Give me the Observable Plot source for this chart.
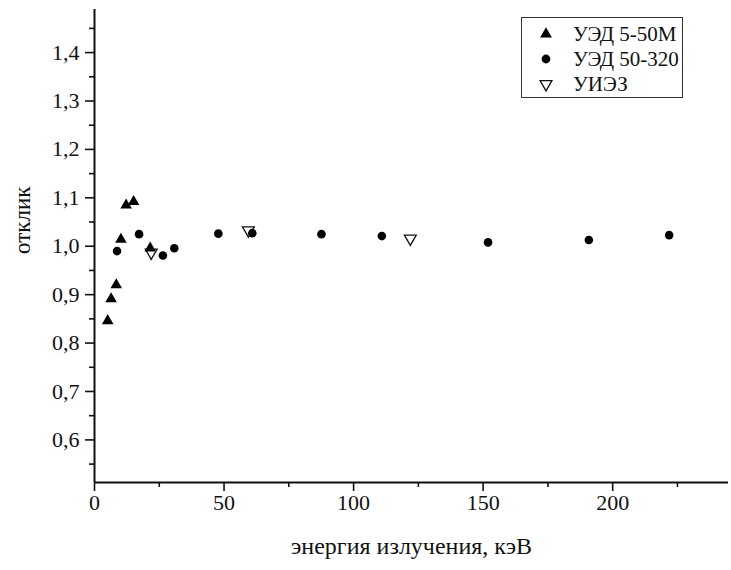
<!DOCTYPE html>
<html>
<head>
<meta charset="utf-8">
<script src="https://cdn.jsdelivr.net/npm/d3@7"></script>
<script src="https://cdn.jsdelivr.net/npm/@observablehq/plot@0.6"></script>
<style>
  html, body { margin: 0; padding: 0; background: #fff; }
  #wrap { position: relative; width: 731px; height: 570px; }
  #legend { position: absolute; left: 521px; top: 17px; width: 160px; height: 79px; border: 1.5px solid #333; background: #fff; }
</style>
</head>
<body>
<div id="wrap"></div>
<script>
// Series: УЭД 5-50М (filled up-triangles)
const uedSmallX = [5.1, 6.4, 8.4, 10.2, 12.2, 15.1, 21.5];
const uedSmallY = [0.846, 0.891, 0.920, 1.014, 1.085, 1.092, 0.996];
// Series: УЭД 50-320 (filled circles)
const uedLargeX = [8.7, 17.2, 26.4, 30.8, 47.8, 60.9, 87.6, 110.9, 151.9, 190.8, 221.8];
const uedLargeY = [0.990, 1.025, 0.981, 0.996, 1.026, 1.027, 1.025, 1.021, 1.008, 1.013, 1.023];
// Series: УИЭЗ (open down-triangles)
const uiezX = [21.9, 59.4, 121.9];
const uiezY = [0.987, 1.033, 1.016];

const seriesNames = ["УЭД 5-50М", "УЭД 50-320", "УИЭЗ"];
const xTicks = [0, 50, 100, 150, 200];
const xMinor = [25, 75, 125, 175, 225];
const yTicks = [0.6, 0.7, 0.8, 0.9, 1.0, 1.1, 1.2, 1.3, 1.4];
const yMinor = [0.55, 0.65, 0.75, 0.85, 0.95, 1.05, 1.15, 1.25, 1.35, 1.45];
const xDomain = [0, 244.7];
const yDomain = [0.512, 1.489];
const xTitle = "энергия излучения, кэВ";
const yTitle = "отклик";

const zip = (xs, ys) => xs.map((x, i) => ({x, y: ys[i]}));
const fmt = d => d.toFixed(1).replace(".", ",");
const serif = "'Liberation Serif', 'Times New Roman', Times, serif";

const chart = Plot.plot({
  width: 731,
  height: 570,
  marginLeft: 94,
  marginRight: 3,
  marginTop: 9,
  marginBottom: 88,
  style: {background: "transparent", color: "#111", fontFamily: serif},
  x: {domain: xDomain},
  y: {domain: yDomain},
  marks: [
    Plot.axisX({ticks: xTicks, tickSize: 9, text: null, label: null, strokeWidth: 1.6}),
    Plot.axisX({ticks: xMinor, tickSize: 5, text: null, label: null, strokeWidth: 1.6}),
    Plot.axisY({ticks: yTicks, tickSize: 9, text: null, label: null, strokeWidth: 1.6}),
    Plot.axisY({ticks: yMinor, tickSize: 5, text: null, label: null, strokeWidth: 1.6}),
    Plot.text(xTicks, {x: d => d, frameAnchor: "bottom", dy: 27, text: d => String(d), fontSize: 22, fontFamily: serif, fill: "#111"}),
    Plot.text(yTicks, {y: d => d, frameAnchor: "left", dx: -15, textAnchor: "end", text: fmt, fontSize: 22, fontFamily: serif, fill: "#111"}),
    Plot.ruleX([xDomain[0]], {stroke: "#111", strokeWidth: 2}),
    Plot.ruleY([yDomain[0]], {stroke: "#111", strokeWidth: 2}),
    Plot.text([xTitle], {frameAnchor: "bottom", dy: 71, fontSize: 24, fontFamily: serif, fill: "#111", text: d => d}),
    Plot.text([yTitle], {frameAnchor: "left", dx: -72, dy: 8, rotate: -90, fontSize: 23, fontFamily: serif, fill: "#111", text: d => d}),
    Plot.dot(zip(uedLargeX, uedLargeY), {x: "x", y: "y", r: 4.3, symbol: "circle", fill: "#000", stroke: "none"}),
    Plot.dot(zip(uedSmallX, uedSmallY), {x: "x", y: "y", r: 4.3, symbol: "triangle", fill: "#000", stroke: "none"}),
    Plot.dot(zip(uiezX, uiezY), {x: "x", y: "y", r: 4.4, symbol: "triangle", rotate: 180, fill: "#fff", fillOpacity: 0, stroke: "#111", strokeWidth: 1.3})
  ]
});

const wrap = document.getElementById("wrap");
wrap.appendChild(chart);

// Legend overlay
const legend = d3.select(wrap).append("div").attr("id", "legend");
const lsvg = legend.append("svg").attr("width", 160).attr("height", 79);
const sym = [
  {type: d3.symbolTriangle, fill: "#000", stroke: "none", rot: 0},
  {type: d3.symbolCircle, fill: "#000", stroke: "none", rot: 0},
  {type: d3.symbolTriangle, fill: "none", stroke: "#111", rot: 180}
];
seriesNames.forEach((name, i) => {
  const cy = 16 + i * 25;
  lsvg.append("path")
    .attr("d", d3.symbol(sym[i].type, 4.4 * 4.4 * Math.PI)())
    .attr("transform", `translate(24,${cy}) rotate(${sym[i].rot})`)
    .attr("fill", sym[i].fill).attr("stroke", sym[i].stroke).attr("stroke-width", 1.3);
  lsvg.append("text").attr("x", 51).attr("y", cy + 6.5)
    .attr("font-family", serif).attr("font-size", 21).attr("fill", "#111").text(name);
});
</script>
</body>
</html>
